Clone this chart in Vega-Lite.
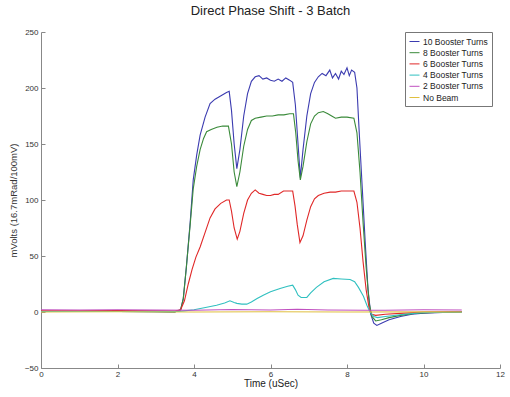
{
  "$schema": "https://vega.github.io/schema/vega-lite/v6.json",
  "width": 459,
  "height": 336,
  "autosize": {"type": "none"},
  "padding": {"left": 41, "top": 32, "right": 10, "bottom": 29},
  "background": "white",
  "title": {"text": "Direct Phase Shift - 3 Batch", "fontSize": 13, "font": "Liberation Sans", "fontWeight": "normal", "color": "#222", "offset": 10, "anchor": "middle"},
  "config": {"view": {"stroke": null}, "font": "Liberation Sans"},
  "data": {"values": [
    {"s": "10 Booster Turns", "t": 0, "v": 0.5}, {"s": "10 Booster Turns", "t": 1, "v": 0.5}, {"s": "10 Booster Turns", "t": 2, "v": 0.5}, {"s": "10 Booster Turns", "t": 3, "v": 0.3}, {"s": "10 Booster Turns", "t": 3.5, "v": 0},
    {"s": "10 Booster Turns", "t": 3.65, "v": 2}, {"s": "10 Booster Turns", "t": 3.72, "v": 12}, {"s": "10 Booster Turns", "t": 3.8, "v": 40}, {"s": "10 Booster Turns", "t": 3.9, "v": 80}, {"s": "10 Booster Turns", "t": 3.98, "v": 118},
    {"s": "10 Booster Turns", "t": 4.07, "v": 140}, {"s": "10 Booster Turns", "t": 4.16, "v": 158}, {"s": "10 Booster Turns", "t": 4.29, "v": 174}, {"s": "10 Booster Turns", "t": 4.42, "v": 186}, {"s": "10 Booster Turns", "t": 4.55, "v": 190},
    {"s": "10 Booster Turns", "t": 4.65, "v": 192}, {"s": "10 Booster Turns", "t": 4.75, "v": 194}, {"s": "10 Booster Turns", "t": 4.85, "v": 196}, {"s": "10 Booster Turns", "t": 4.92, "v": 197}, {"s": "10 Booster Turns", "t": 4.98, "v": 180},
    {"s": "10 Booster Turns", "t": 5.05, "v": 150}, {"s": "10 Booster Turns", "t": 5.12, "v": 128}, {"s": "10 Booster Turns", "t": 5.2, "v": 145}, {"s": "10 Booster Turns", "t": 5.3, "v": 175}, {"s": "10 Booster Turns", "t": 5.4, "v": 195},
    {"s": "10 Booster Turns", "t": 5.5, "v": 206}, {"s": "10 Booster Turns", "t": 5.6, "v": 210}, {"s": "10 Booster Turns", "t": 5.7, "v": 211}, {"s": "10 Booster Turns", "t": 5.8, "v": 208}, {"s": "10 Booster Turns", "t": 5.9, "v": 209},
    {"s": "10 Booster Turns", "t": 6.0, "v": 207}, {"s": "10 Booster Turns", "t": 6.1, "v": 206}, {"s": "10 Booster Turns", "t": 6.2, "v": 208}, {"s": "10 Booster Turns", "t": 6.3, "v": 206}, {"s": "10 Booster Turns", "t": 6.4, "v": 209},
    {"s": "10 Booster Turns", "t": 6.5, "v": 207}, {"s": "10 Booster Turns", "t": 6.58, "v": 205}, {"s": "10 Booster Turns", "t": 6.65, "v": 185}, {"s": "10 Booster Turns", "t": 6.72, "v": 150}, {"s": "10 Booster Turns", "t": 6.78, "v": 120},
    {"s": "10 Booster Turns", "t": 6.85, "v": 145}, {"s": "10 Booster Turns", "t": 6.95, "v": 175}, {"s": "10 Booster Turns", "t": 7.05, "v": 195}, {"s": "10 Booster Turns", "t": 7.15, "v": 205}, {"s": "10 Booster Turns", "t": 7.25, "v": 210},
    {"s": "10 Booster Turns", "t": 7.35, "v": 213}, {"s": "10 Booster Turns", "t": 7.45, "v": 211}, {"s": "10 Booster Turns", "t": 7.55, "v": 216}, {"s": "10 Booster Turns", "t": 7.62, "v": 209}, {"s": "10 Booster Turns", "t": 7.7, "v": 213},
    {"s": "10 Booster Turns", "t": 7.78, "v": 208}, {"s": "10 Booster Turns", "t": 7.85, "v": 215}, {"s": "10 Booster Turns", "t": 7.92, "v": 212}, {"s": "10 Booster Turns", "t": 8.0, "v": 218}, {"s": "10 Booster Turns", "t": 8.06, "v": 211},
    {"s": "10 Booster Turns", "t": 8.12, "v": 216}, {"s": "10 Booster Turns", "t": 8.2, "v": 214}, {"s": "10 Booster Turns", "t": 8.26, "v": 200}, {"s": "10 Booster Turns", "t": 8.32, "v": 160}, {"s": "10 Booster Turns", "t": 8.4, "v": 110},
    {"s": "10 Booster Turns", "t": 8.48, "v": 60}, {"s": "10 Booster Turns", "t": 8.55, "v": 20}, {"s": "10 Booster Turns", "t": 8.62, "v": -2}, {"s": "10 Booster Turns", "t": 8.7, "v": -10}, {"s": "10 Booster Turns", "t": 8.78, "v": -12},
    {"s": "10 Booster Turns", "t": 8.9, "v": -10}, {"s": "10 Booster Turns", "t": 9.1, "v": -7}, {"s": "10 Booster Turns", "t": 9.4, "v": -4}, {"s": "10 Booster Turns", "t": 9.7, "v": -2}, {"s": "10 Booster Turns", "t": 10, "v": -1},
    {"s": "10 Booster Turns", "t": 10.5, "v": -0.5}, {"s": "10 Booster Turns", "t": 11, "v": 0},

    {"s": "8 Booster Turns", "t": 0, "v": 0.5}, {"s": "8 Booster Turns", "t": 1, "v": 0.4}, {"s": "8 Booster Turns", "t": 2, "v": 0.5}, {"s": "8 Booster Turns", "t": 3, "v": 0.3}, {"s": "8 Booster Turns", "t": 3.5, "v": 0},
    {"s": "8 Booster Turns", "t": 3.65, "v": 2}, {"s": "8 Booster Turns", "t": 3.72, "v": 12}, {"s": "8 Booster Turns", "t": 3.8, "v": 40}, {"s": "8 Booster Turns", "t": 3.9, "v": 78}, {"s": "8 Booster Turns", "t": 3.98, "v": 110},
    {"s": "8 Booster Turns", "t": 4.07, "v": 130}, {"s": "8 Booster Turns", "t": 4.16, "v": 145}, {"s": "8 Booster Turns", "t": 4.25, "v": 155}, {"s": "8 Booster Turns", "t": 4.33, "v": 161}, {"s": "8 Booster Turns", "t": 4.45, "v": 163},
    {"s": "8 Booster Turns", "t": 4.6, "v": 165}, {"s": "8 Booster Turns", "t": 4.75, "v": 166}, {"s": "8 Booster Turns", "t": 4.9, "v": 166}, {"s": "8 Booster Turns", "t": 4.98, "v": 150}, {"s": "8 Booster Turns", "t": 5.05, "v": 125},
    {"s": "8 Booster Turns", "t": 5.12, "v": 112}, {"s": "8 Booster Turns", "t": 5.2, "v": 125}, {"s": "8 Booster Turns", "t": 5.3, "v": 148}, {"s": "8 Booster Turns", "t": 5.4, "v": 163}, {"s": "8 Booster Turns", "t": 5.5, "v": 171},
    {"s": "8 Booster Turns", "t": 5.6, "v": 173}, {"s": "8 Booster Turns", "t": 5.75, "v": 174}, {"s": "8 Booster Turns", "t": 5.9, "v": 175}, {"s": "8 Booster Turns", "t": 6.05, "v": 175}, {"s": "8 Booster Turns", "t": 6.2, "v": 176},
    {"s": "8 Booster Turns", "t": 6.35, "v": 176}, {"s": "8 Booster Turns", "t": 6.5, "v": 177}, {"s": "8 Booster Turns", "t": 6.6, "v": 177}, {"s": "8 Booster Turns", "t": 6.66, "v": 160}, {"s": "8 Booster Turns", "t": 6.72, "v": 135},
    {"s": "8 Booster Turns", "t": 6.78, "v": 118}, {"s": "8 Booster Turns", "t": 6.85, "v": 130}, {"s": "8 Booster Turns", "t": 6.95, "v": 152}, {"s": "8 Booster Turns", "t": 7.05, "v": 168}, {"s": "8 Booster Turns", "t": 7.15, "v": 175},
    {"s": "8 Booster Turns", "t": 7.25, "v": 178}, {"s": "8 Booster Turns", "t": 7.38, "v": 179}, {"s": "8 Booster Turns", "t": 7.5, "v": 177}, {"s": "8 Booster Turns", "t": 7.6, "v": 175}, {"s": "8 Booster Turns", "t": 7.7, "v": 173},
    {"s": "8 Booster Turns", "t": 7.85, "v": 174}, {"s": "8 Booster Turns", "t": 8.0, "v": 174}, {"s": "8 Booster Turns", "t": 8.18, "v": 173}, {"s": "8 Booster Turns", "t": 8.26, "v": 160}, {"s": "8 Booster Turns", "t": 8.34, "v": 125},
    {"s": "8 Booster Turns", "t": 8.42, "v": 80}, {"s": "8 Booster Turns", "t": 8.5, "v": 40}, {"s": "8 Booster Turns", "t": 8.58, "v": 8}, {"s": "8 Booster Turns", "t": 8.65, "v": -4}, {"s": "8 Booster Turns", "t": 8.75, "v": -8},
    {"s": "8 Booster Turns", "t": 8.9, "v": -7}, {"s": "8 Booster Turns", "t": 9.1, "v": -5}, {"s": "8 Booster Turns", "t": 9.4, "v": -3}, {"s": "8 Booster Turns", "t": 9.8, "v": -1}, {"s": "8 Booster Turns", "t": 10.3, "v": -0.5},
    {"s": "8 Booster Turns", "t": 11, "v": 0},

    {"s": "6 Booster Turns", "t": 0, "v": 1}, {"s": "6 Booster Turns", "t": 1, "v": 1}, {"s": "6 Booster Turns", "t": 2, "v": 1.2}, {"s": "6 Booster Turns", "t": 3, "v": 1}, {"s": "6 Booster Turns", "t": 3.5, "v": 0.8},
    {"s": "6 Booster Turns", "t": 3.65, "v": 2}, {"s": "6 Booster Turns", "t": 3.75, "v": 10}, {"s": "6 Booster Turns", "t": 3.85, "v": 25}, {"s": "6 Booster Turns", "t": 3.95, "v": 38}, {"s": "6 Booster Turns", "t": 4.05, "v": 49},
    {"s": "6 Booster Turns", "t": 4.16, "v": 58}, {"s": "6 Booster Turns", "t": 4.3, "v": 72}, {"s": "6 Booster Turns", "t": 4.42, "v": 84}, {"s": "6 Booster Turns", "t": 4.55, "v": 92}, {"s": "6 Booster Turns", "t": 4.7, "v": 97},
    {"s": "6 Booster Turns", "t": 4.85, "v": 100}, {"s": "6 Booster Turns", "t": 4.92, "v": 100}, {"s": "6 Booster Turns", "t": 4.98, "v": 90}, {"s": "6 Booster Turns", "t": 5.05, "v": 75}, {"s": "6 Booster Turns", "t": 5.13, "v": 65},
    {"s": "6 Booster Turns", "t": 5.2, "v": 72}, {"s": "6 Booster Turns", "t": 5.3, "v": 88}, {"s": "6 Booster Turns", "t": 5.4, "v": 100}, {"s": "6 Booster Turns", "t": 5.5, "v": 106}, {"s": "6 Booster Turns", "t": 5.6, "v": 109},
    {"s": "6 Booster Turns", "t": 5.7, "v": 106}, {"s": "6 Booster Turns", "t": 5.8, "v": 105}, {"s": "6 Booster Turns", "t": 5.9, "v": 104}, {"s": "6 Booster Turns", "t": 6.0, "v": 104}, {"s": "6 Booster Turns", "t": 6.1, "v": 105},
    {"s": "6 Booster Turns", "t": 6.2, "v": 105}, {"s": "6 Booster Turns", "t": 6.34, "v": 108}, {"s": "6 Booster Turns", "t": 6.45, "v": 108}, {"s": "6 Booster Turns", "t": 6.58, "v": 108}, {"s": "6 Booster Turns", "t": 6.64, "v": 95},
    {"s": "6 Booster Turns", "t": 6.7, "v": 78}, {"s": "6 Booster Turns", "t": 6.77, "v": 62}, {"s": "6 Booster Turns", "t": 6.85, "v": 68}, {"s": "6 Booster Turns", "t": 6.95, "v": 82}, {"s": "6 Booster Turns", "t": 7.05, "v": 94},
    {"s": "6 Booster Turns", "t": 7.15, "v": 101}, {"s": "6 Booster Turns", "t": 7.25, "v": 104}, {"s": "6 Booster Turns", "t": 7.4, "v": 106}, {"s": "6 Booster Turns", "t": 7.56, "v": 107}, {"s": "6 Booster Turns", "t": 7.7, "v": 107},
    {"s": "6 Booster Turns", "t": 7.85, "v": 108}, {"s": "6 Booster Turns", "t": 8.0, "v": 108}, {"s": "6 Booster Turns", "t": 8.18, "v": 108}, {"s": "6 Booster Turns", "t": 8.26, "v": 98}, {"s": "6 Booster Turns", "t": 8.34, "v": 75},
    {"s": "6 Booster Turns", "t": 8.42, "v": 45}, {"s": "6 Booster Turns", "t": 8.5, "v": 20}, {"s": "6 Booster Turns", "t": 8.58, "v": 3}, {"s": "6 Booster Turns", "t": 8.65, "v": -2}, {"s": "6 Booster Turns", "t": 8.75, "v": -3},
    {"s": "6 Booster Turns", "t": 9.0, "v": -2}, {"s": "6 Booster Turns", "t": 9.5, "v": -1}, {"s": "6 Booster Turns", "t": 10, "v": 0}, {"s": "6 Booster Turns", "t": 11, "v": 0.5},

    {"s": "4 Booster Turns", "t": 0, "v": 0.5}, {"s": "4 Booster Turns", "t": 1, "v": 0.5}, {"s": "4 Booster Turns", "t": 2, "v": 0.4}, {"s": "4 Booster Turns", "t": 3, "v": 0.5}, {"s": "4 Booster Turns", "t": 3.6, "v": 0.5},
    {"s": "4 Booster Turns", "t": 3.75, "v": 1}, {"s": "4 Booster Turns", "t": 4.0, "v": 2}, {"s": "4 Booster Turns", "t": 4.3, "v": 4}, {"s": "4 Booster Turns", "t": 4.59, "v": 6}, {"s": "4 Booster Turns", "t": 4.8, "v": 8},
    {"s": "4 Booster Turns", "t": 4.94, "v": 10}, {"s": "4 Booster Turns", "t": 5.05, "v": 8.5}, {"s": "4 Booster Turns", "t": 5.12, "v": 7.7}, {"s": "4 Booster Turns", "t": 5.25, "v": 7}, {"s": "4 Booster Turns", "t": 5.38, "v": 7},
    {"s": "4 Booster Turns", "t": 5.5, "v": 9}, {"s": "4 Booster Turns", "t": 5.65, "v": 12}, {"s": "4 Booster Turns", "t": 5.81, "v": 15}, {"s": "4 Booster Turns", "t": 6.0, "v": 18}, {"s": "4 Booster Turns", "t": 6.25, "v": 21},
    {"s": "4 Booster Turns", "t": 6.45, "v": 23}, {"s": "4 Booster Turns", "t": 6.58, "v": 24}, {"s": "4 Booster Turns", "t": 6.65, "v": 20}, {"s": "4 Booster Turns", "t": 6.72, "v": 15}, {"s": "4 Booster Turns", "t": 6.8, "v": 13},
    {"s": "4 Booster Turns", "t": 6.95, "v": 13}, {"s": "4 Booster Turns", "t": 7.05, "v": 17}, {"s": "4 Booster Turns", "t": 7.2, "v": 22}, {"s": "4 Booster Turns", "t": 7.4, "v": 27}, {"s": "4 Booster Turns", "t": 7.64, "v": 30},
    {"s": "4 Booster Turns", "t": 7.85, "v": 29.5}, {"s": "4 Booster Turns", "t": 8.08, "v": 29}, {"s": "4 Booster Turns", "t": 8.2, "v": 27}, {"s": "4 Booster Turns", "t": 8.3, "v": 22}, {"s": "4 Booster Turns", "t": 8.43, "v": 14},
    {"s": "4 Booster Turns", "t": 8.52, "v": 6}, {"s": "4 Booster Turns", "t": 8.6, "v": 0}, {"s": "4 Booster Turns", "t": 8.7, "v": -4}, {"s": "4 Booster Turns", "t": 8.8, "v": -5}, {"s": "4 Booster Turns", "t": 9.0, "v": -4},
    {"s": "4 Booster Turns", "t": 9.5, "v": -2}, {"s": "4 Booster Turns", "t": 10, "v": -0.5}, {"s": "4 Booster Turns", "t": 11, "v": 0},

    {"s": "2 Booster Turns", "t": 0, "v": 2}, {"s": "2 Booster Turns", "t": 1, "v": 1.8}, {"s": "2 Booster Turns", "t": 2, "v": 2}, {"s": "2 Booster Turns", "t": 3, "v": 1.7}, {"s": "2 Booster Turns", "t": 4, "v": 1.5},
    {"s": "2 Booster Turns", "t": 5, "v": 2.2}, {"s": "2 Booster Turns", "t": 6, "v": 1.8}, {"s": "2 Booster Turns", "t": 6.7, "v": 2.5}, {"s": "2 Booster Turns", "t": 7.5, "v": 1.8}, {"s": "2 Booster Turns", "t": 8.5, "v": 1.6},
    {"s": "2 Booster Turns", "t": 9, "v": 1.5}, {"s": "2 Booster Turns", "t": 10, "v": 2}, {"s": "2 Booster Turns", "t": 11, "v": 1.8},

    {"s": "No Beam", "t": 0, "v": 0}, {"s": "No Beam", "t": 2, "v": 0.2}, {"s": "No Beam", "t": 4, "v": 0}, {"s": "No Beam", "t": 6, "v": 0.2}, {"s": "No Beam", "t": 8, "v": 0},
    {"s": "No Beam", "t": 10, "v": 0.1}, {"s": "No Beam", "t": 11, "v": 0}
  ]},
  "mark": {"type": "line", "strokeWidth": 1.1, "interpolate": "linear"},
  "encoding": {
    "x": {"field": "t", "type": "quantitative",
      "scale": {"domain": [0, 12], "nice": false},
      "axis": {"title": "Time (uSec)", "values": [0, 2, 4, 6, 8, 10, 12], "grid": false, "domainColor": "#888", "tickColor": "#888", "tickSize": -4, "labelFontSize": 8, "labelColor": "#333", "labelPadding": 6, "titleFontSize": 10, "titleFontWeight": "normal", "titleColor": "#222", "titlePadding": 0, "labelFlush": false}},
    "y": {"field": "v", "type": "quantitative",
      "scale": {"domain": [-50, 250], "nice": false, "zero": false},
      "axis": {"title": "mVolts (16.7mRad/100mV)", "values": [-50, 0, 50, 100, 150, 200, 250], "grid": false, "domainColor": "#888", "tickColor": "#888", "tickSize": -4, "labelFontSize": 8, "labelColor": "#333", "labelPadding": 7, "titleFontSize": 9.5, "titleFontWeight": "normal", "titleColor": "#333", "titlePadding": 6}},
    "color": {"field": "s", "type": "nominal",
      "scale": {"domain": ["10 Booster Turns", "8 Booster Turns", "6 Booster Turns", "4 Booster Turns", "2 Booster Turns", "No Beam"],
                "range": ["#3b3bb0", "#3a8a3a", "#e02828", "#30c0c0", "#c050c0", "#e0c040"]},
      "legend": {"title": null, "orient": "none", "legendX": 364, "legendY": 0, "symbolType": "stroke", "symbolSize": 100, "symbolStrokeWidth": 1, "labelFontSize": 8.5, "labelColor": "#222", "labelOffset": 3, "rowPadding": 1.2, "padding": 4, "strokeColor": "#777", "fillColor": "white", "labelLimit": 200}}
  }
}
